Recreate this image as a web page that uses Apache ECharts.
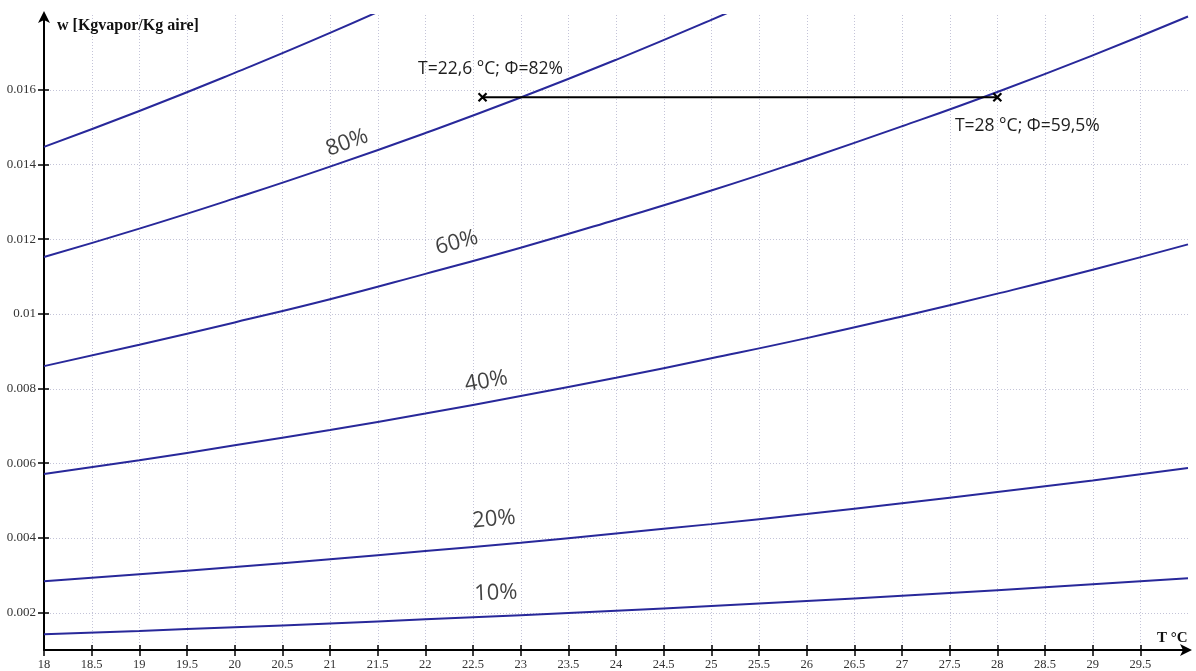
<!DOCTYPE html>
<html>
<head>
<meta charset="utf-8">
<script src="https://cdn.jsdelivr.net/npm/echarts@6/dist/echarts.min.js"></script>
<style>
  html, body { margin: 0; padding: 0; background: #fff; }
  #chart { width: 1196px; height: 671px; }
</style>
</head>
<body>
<div id="chart"></div>
<script>
// Dry-bulb temperature (°C)
const temps = [18, 19, 20, 21, 22, 23, 24, 25, 26, 27, 28, 29, 30];

// Humidity ratio w (kg vapour / kg dry air) along constant relative-humidity curves
const rh100 = [0.01447, 0.01543, 0.01645, 0.01752, 0.01866, null, null, null, null, null, null, null, null];
const rh80  = [0.01152, 0.01228, 0.01309, 0.01394, 0.01484, 0.01579, 0.01680, 0.01787, 0.01899, null, null, null, null];
const rh60  = [0.00860, 0.00917, 0.00977, 0.01039, 0.01107, 0.01177, 0.01252, 0.01330, 0.01414, 0.01502, 0.01594, 0.01692, 0.01796];
const rh40  = [0.00571, 0.00608, 0.00648, 0.00689, 0.00733, 0.00780, 0.00829, 0.00881, 0.00935, 0.00993, 0.01054, 0.01118, 0.01186];
const rh20  = [0.00284, 0.00303, 0.00322, 0.00343, 0.00365, 0.00387, 0.00412, 0.00437, 0.00464, 0.00493, 0.00523, 0.00554, 0.00587];
const rh10  = [0.00142, 0.00151, 0.00161, 0.00171, 0.00182, 0.00193, 0.00205, 0.00218, 0.00231, 0.00245, 0.00260, 0.00276, 0.00292];

// Cooling process: from state 1 (28 °C, 59,5 %) to state 2 (22,6 °C, 82 %) at constant w
const processT = [22.6, 28];
const processW = [0.0158, 0.0158];
const processText = ['T=22,6 °C; Φ=82%', 'T=28 °C; Φ=59,5%'];

// Tick labels
const xTicks = [18, 18.5, 19, 19.5, 20, 20.5, 21, 21.5, 22, 22.5, 23, 23.5, 24, 24.5, 25, 25.5, 26, 26.5, 27, 27.5, 28, 28.5, 29, 29.5];
const yTicks = [0.002, 0.004, 0.006, 0.008, 0.010, 0.012, 0.014, 0.016];

// Curve captions
const curveNames = ['80%', '60%', '40%', '20%', '10%'];

const curveColor = '#28289a';
const gridColor = '#c4c4d8';
const serif = '"Liberation Serif", "DejaVu Serif", serif';
const sans = '"Open Sans", "Noto Sans", sans-serif';

function pairs(arr) {
  const out = [];
  temps.forEach((t, i) => { if (arr[i] !== null) out.push([t, arr[i]]); });
  return out;
}

function curve(arr) {
  return {
    type: 'line',
    data: pairs(arr),
    smooth: true,
    showSymbol: false,
    clip: true,
    lineStyle: { color: curveColor, width: 2 },
    silent: true,
    z: 3
  };
}

const tickStyle = { color: '#000', width: 1.5 };

const chart = echarts.init(document.getElementById('chart'), null, { renderer: 'canvas' });

const titles = [{
  type: 'text',
  left: 57,
  top: 18,
  style: {
    text: 'w [Kgvapor/Kg aire]',
    fontFamily: serif,
    fontWeight: 'bold',
    fontSize: 16,
    fill: '#111'
  }
}, {
  type: 'text',
  left: 1157,
  top: 631,
  style: {
    text: 'T °C',
    fontFamily: serif,
    fontWeight: 'bold',
    fontSize: 15,
    fill: '#111'
  }
}];

const option = {
  animation: false,
  backgroundColor: '#fff',
  grid: { left: 44, right: 8, top: 15, bottom: 21, containLabel: false },
  xAxis: [{
    type: 'value',
    min: 18,
    max: 30,
    axisLine: {
      show: true,
      onZero: false,
      symbol: ['none', 'arrow'],
      symbolSize: [9, 12],
      symbolOffset: [0, 4],
      lineStyle: { color: '#000', width: 2 }
    },
    axisTick: { show: true, customValues: xTicks, length: 6, lineStyle: tickStyle },
    axisLabel: {
      customValues: xTicks,
      margin: 8,
      color: '#333',
      fontFamily: serif,
      fontSize: 12.5
    },
    splitLine: { show: false }
  }, {
    type: 'value',
    min: 18,
    max: 30,
    position: 'bottom',
    axisLine: { show: false, onZero: false },
    axisTick: { show: true, inside: true, customValues: xTicks, length: 5, lineStyle: tickStyle },
    axisLabel: { show: false },
    splitLine: { show: false }
  }],
  yAxis: [{
    type: 'value',
    min: 0.001,
    max: 0.018,
    axisLine: {
      show: true,
      onZero: false,
      symbol: ['none', 'arrow'],
      symbolSize: [9, 12],
      symbolOffset: [0, 4],
      lineStyle: { color: '#000', width: 2 }
    },
    axisTick: { show: true, customValues: yTicks, length: 6, lineStyle: tickStyle },
    axisLabel: {
      customValues: yTicks,
      margin: 8,
      color: '#333',
      fontFamily: serif,
      fontSize: 13,
      formatter: v => String(+v.toFixed(3))
    },
    splitLine: { show: false }
  }, {
    type: 'value',
    min: 0.001,
    max: 0.018,
    position: 'left',
    axisLine: { show: false, onZero: false },
    axisTick: { show: true, inside: true, customValues: yTicks, length: 5, lineStyle: tickStyle },
    axisLabel: { show: false },
    splitLine: { show: false }
  }],
  graphic: titles,
  series: [
    curve(rh100),
    curve(rh80),
    curve(rh60),
    curve(rh40),
    curve(rh20),
    curve(rh10),
    {
      // constant-w process line with its two state points
      type: 'line',
      data: processT.map((t, i) => ({
        value: [t, processW[i]],
        label: i === 0
          ? { position: 'top', offset: [8, -9] }
          : { position: 'bottom', offset: [30, 10] }
      })),
      symbol: 'path://M0,0L10,10M10,0L0,10',
      symbolSize: 8,
      showSymbol: true,
      lineStyle: { color: '#000', width: 2 },
      itemStyle: { color: 'rgba(0,0,0,0)', borderColor: '#000', borderWidth: 2.2 },
      label: {
        show: true,
        fontFamily: sans,
        fontSize: 17.5,
        color: '#1e1e1e',
        formatter: p => processText[p.dataIndex]
      },
      z: 5
    },
    {
      // relative-humidity captions laid along their curves
      type: 'scatter',
      symbolSize: 0,
      silent: true,
      data: [
        { value: [21.18, 0.01458], label: { rotate: 20 } },
        { value: [22.33, 0.01191], label: { rotate: 15 } },
        { value: [22.64, 0.00819], label: { rotate: 10 } },
        { value: [22.72, 0.00450], label: { rotate: 5 } },
        { value: [22.74, 0.00252], label: { rotate: 2 } }
      ],
      label: {
        show: true,
        position: 'inside',
        fontFamily: sans,
        fontSize: 22,
        color: '#111',
        formatter: p => curveNames[p.dataIndex]
      },
      z: 6
    }
  ]
};

chart.setOption(option);

// Dotted grid at the labelled ticks, positioned through the axes' own scales
// and snapped to the pixel grid so the 1px dots stay crisp.
const x0 = chart.convertToPixel({ xAxisIndex: 0 }, 18);
const x1 = chart.convertToPixel({ xAxisIndex: 0 }, 30);
const y0 = chart.convertToPixel({ yAxisIndex: 0 }, 0.001);
const y1 = chart.convertToPixel({ yAxisIndex: 0 }, 0.018);
const gridStyle = { stroke: gridColor, lineWidth: 1, lineDash: [1, 2] };
const gridLines = [];
xTicks.filter(v => v > 18).forEach(v => {
  const x = Math.round(chart.convertToPixel({ xAxisIndex: 0 }, v)) + 0.5;
  gridLines.push({ type: 'line', silent: true, z: -10, shape: { x1: x, y1: y1, x2: x, y2: y0 }, style: gridStyle });
});
yTicks.forEach(v => {
  const y = Math.round(chart.convertToPixel({ yAxisIndex: 0 }, v)) + 0.5;
  gridLines.push({ type: 'line', silent: true, z: -10, shape: { x1: x0, y1: y, x2: x1, y2: y }, style: gridStyle });
});
chart.setOption({ graphic: titles.concat(gridLines) });
</script>
</body>
</html>
